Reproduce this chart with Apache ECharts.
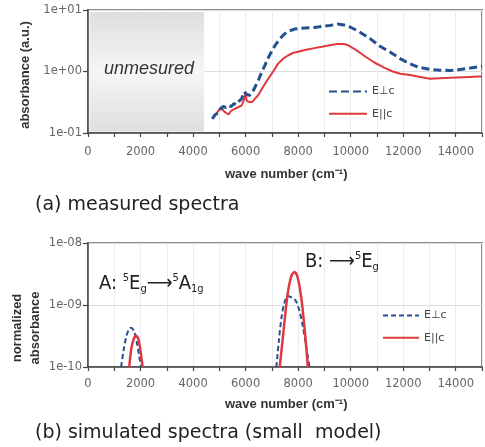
<!DOCTYPE html>
<html>
<head>
<meta charset="utf-8">
<script src="https://cdn.jsdelivr.net/npm/echarts@6/dist/echarts.min.js"></script>
<style>
html,body{margin:0;padding:0;background:#fff;}
#c{width:485px;height:447px;}
</style>
</head>
<body>
<div id="c"></div>
<script>
// ---------- data ----------
// (a) measured spectra
const measPerpWave = [4730,4850,4950,5050,5150,5250,5350,5450,5550,5650,5750,5850,5950,6000,6050,6150,6250,6350,6480,6600,6730,6900,7110,7300,7490,7680,7860,8100,8400,8620,8900,9200,9500,9750,10000,10300,10750,11100,11510,11900,12260,12600,13020,13400,13770,14100,14500,14900,15000];
const measPerpAbs  = [0.17,0.20,0.21,0.25,0.27,0.26,0.28,0.27,0.30,0.29,0.33,0.36,0.47,0.50,0.42,0.41,0.45,0.55,0.71,0.95,1.25,1.80,2.60,3.40,4.10,4.60,4.90,5.05,5.15,5.20,5.40,5.60,5.90,5.70,5.25,4.50,3.40,2.60,2.06,1.60,1.33,1.17,1.08,1.05,1.04,1.07,1.13,1.20,1.22];
const measParWave  = [4780,4900,5000,5090,5200,5350,5450,5600,5700,5850,5950,5990,6050,6150,6250,6350,6480,6650,6860,7050,7230,7420,7610,7800,7990,8300,8620,8950,9250,9500,9750,9880,10200,10500,10900,11260,11600,11890,12260,12600,13020,13400,13770,14300,14900,15000];
const measParAbs   = [0.19,0.21,0.24,0.25,0.22,0.20,0.23,0.25,0.26,0.28,0.36,0.43,0.33,0.32,0.32,0.36,0.41,0.55,0.76,1.00,1.33,1.60,1.82,2.00,2.10,2.25,2.40,2.55,2.70,2.80,2.80,2.70,2.25,1.82,1.40,1.17,1.00,0.92,0.88,0.82,0.76,0.78,0.79,0.81,0.83,0.83];
// (b) simulated spectra
const simPerpWave = [1260,1350,1450,1550,1640,1750,1850,1950,2020, null, 7170,7260,7360,7480,7610,7780,7920,8050,8180,8320,8430];
const simPerpAbs  = [1e-10,1.8e-10,3.0e-10,4.0e-10,4.3e-10,3.8e-10,2.6e-10,1.5e-10,1e-10, null, 1e-10,2.5e-10,6e-10,1.1e-9,1.4e-9,1.3e-9,1.15e-9,8e-10,4.5e-10,2e-10,1e-10];
const simParWave  = [1570,1650,1750,1830,1920,2000,2080, null, 7300,7450,7600,7750,7860,7980,8120,8250,8370];
const simParAbs   = [1e-10,2.0e-10,2.9e-10,3.2e-10,2.8e-10,1.8e-10,1e-10, null, 1e-10,4e-10,1.5e-9,3.0e-9,3.4e-9,2.8e-9,1.3e-9,4e-10,1e-10];
// axis tick labels
const xTickLabels = ['0','2000','4000','6000','8000','10000','12000','14000'];
const yTickLabelsA = {'-1':'1e-01','0':'1e+00','1':'1e+01'};
const yTickLabelsB = {'-10':'1e-10','-9':'1e-09','-8':'1e-08'};

// ---------- helpers ----------
function pairs(xs, ys){ return xs.map((x,i)=> x===null ? '-' : [x, ys[i]]); }
function xFmt(v){ const s=String(v); return xTickLabels.indexOf(s)>=0 ? s : ''; }
function yFmt(map){ return v => map[String(Math.round(Math.log10(v)))] || ''; }

const BLUE = '#24518f', RED = '#e0383f';
const tickFont = {fontFamily:'DejaVu Sans', fontSize:11.5, color:'#666'};
const titleFont = {fontFamily:'Liberation Sans', fontSize:13, fontWeight:'bold', fill:'#333'};
const annFam = "'DejaVu Sans Condensed','Liberation Sans Narrow','DejaVu Sans'";

function xAxisDef(gi, margin){
  return {
    gridIndex: gi, type:'value', min:0, max:15000, interval:1000,
    axisLine:{show:true, onZero:false, lineStyle:{color:'#444', width:1.5}},
    axisTick:{show:true, length:4, lineStyle:{color:'#444', width:1.2}},
    axisLabel:Object.assign({formatter:xFmt, margin:margin}, tickFont),
    splitLine:{show:true, lineStyle:{color:'#ececec', width:1}}
  };
}
function yAxisDef(gi, min, max, map){
  return {
    gridIndex: gi, type:'log', logBase:10, min:min, max:max,
    axisLine:{show:true, lineStyle:{color:'#444', width:1.5}},
    axisTick:{show:true, length:5, lineStyle:{color:'#444', width:1.2}},
    axisLabel:Object.assign({formatter:yFmt(map), margin:6}, tickFont),
    splitLine:{show:true, lineStyle:{color:'#dcdcdc', width:1}},
    minorTick:{show:false}
  };
}
const legText = {fontFamily:'DejaVu Sans', fontSize:11, color:'#444'};

const chart = echarts.init(document.getElementById('c'), null, {renderer:'canvas'});
chart.setOption({
  animation:false,
  backgroundColor:'#fff',
  grid:[
    {left:88, top:10, width:397, height:123, show:true, borderColor:'#8c8c8c', borderWidth:2, backgroundColor:'transparent'},
    {left:88, top:243, width:397, height:124, show:true, borderColor:'#8c8c8c', borderWidth:2, backgroundColor:'transparent'}
  ],
  xAxis:[xAxisDef(0,13), xAxisDef(1,11)],
  yAxis:[yAxisDef(0,0.1,10,yTickLabelsA), yAxisDef(1,1e-10,1e-8,yTickLabelsB)],
  legend:[
    {left:323, top:81, orient:'vertical', itemWidth:38, itemHeight:14, itemGap:11,
     data:['E⊥c (a)','E||c (a)'], formatter:n=>n.split(' ')[0], itemStyle:{opacity:0},
     textStyle:legText, selectedMode:false},
    {left:377, top:305, orient:'vertical', itemWidth:36, itemHeight:14, itemGap:11,
     data:['E⊥c (b)','E||c (b)'], formatter:n=>n.split(' ')[0], itemStyle:{opacity:0},
     textStyle:legText, selectedMode:false}
  ],
  series:[
    {name:'E⊥c (a)', type:'line', xAxisIndex:0, yAxisIndex:0, symbol:'none', z:3,
     data:pairs(measPerpWave, measPerpAbs),
     lineStyle:{color:BLUE, width:3, type:[8,4]}, itemStyle:{color:BLUE},
     markArea:{silent:true, itemStyle:{color:{type:'linear',x:0,y:0,x2:0,y2:1,colorStops:[
        {offset:0,color:'#dedede'},{offset:0.5,color:'#f6f6f6'},{offset:1,color:'#dedede'}]}},
       data:[[{coord:[60, 9.3]},{coord:[4420, 0.106]}]]}},
    {name:'E||c (a)', type:'line', xAxisIndex:0, yAxisIndex:0, symbol:'none', z:2,
     data:pairs(measParWave, measParAbs),
     lineStyle:{color:RED, width:2}, itemStyle:{color:RED}},
    {name:'E⊥c (b)', type:'line', xAxisIndex:1, yAxisIndex:1, symbol:'none', z:2, connectNulls:false,
     data:pairs(simPerpWave, simPerpAbs), smooth:0.3,
     lineStyle:{color:BLUE, width:2, type:[5,3]}, itemStyle:{color:BLUE}},
    {name:'E||c (b)', type:'line', xAxisIndex:1, yAxisIndex:1, symbol:'none', z:3, connectNulls:false,
     data:pairs(simParWave, simParAbs), smooth:0.3,
     lineStyle:{color:RED, width:2.5}, itemStyle:{color:RED}}
  ],
  graphic:[
    {type:'text', left:104, top:60, z:10, style:{text:'unmesured', fontFamily:'Liberation Sans', fontStyle:'italic', fontSize:18, fill:'#333'}},
    {type:'text', left:225, top:168, style:Object.assign({text:'wave number (cm⁻¹)'}, titleFont)},
    {type:'text', left:225, top:398, style:Object.assign({text:'wave number (cm⁻¹)'}, titleFont)},
    {type:'text', x:25, y:75, rotation:Math.PI/2, style:Object.assign({text:'absorbance (a.u.)', align:'center', verticalAlign:'middle'}, titleFont)},
    {type:'text', x:17, y:328, rotation:Math.PI/2, style:Object.assign({text:'normalized', align:'center', verticalAlign:'middle'}, titleFont)},
    {type:'text', x:35, y:328, rotation:Math.PI/2, style:Object.assign({text:'absorbance', align:'center', verticalAlign:'middle'}, titleFont)},
    {type:'text', left:99, top:273, z:10, style:{
      text:'{m|A: }{sup|5}{m|E}{sub|g}{m|⟶}{sup|5}{m|A}{sub|1g}',
      rich:{
        m:{fontFamily:annFam, fontSize:20, lineHeight:22, fill:'#222', verticalAlign:'middle'},
        sup:{fontFamily:annFam, fontSize:11, lineHeight:11, fill:'#222', verticalAlign:'top'},
        sub:{fontFamily:annFam, fontSize:11, lineHeight:11, fill:'#222', verticalAlign:'bottom'}
      }}},
    {type:'text', left:305, top:251, z:10, style:{
      text:'{m|B: ⟶}{sup|5}{m|E}{sub|g}',
      rich:{
        m:{fontFamily:annFam, fontSize:20, lineHeight:22, fill:'#222', verticalAlign:'middle'},
        sup:{fontFamily:annFam, fontSize:11, lineHeight:11, fill:'#222', verticalAlign:'top'},
        sub:{fontFamily:annFam, fontSize:11, lineHeight:11, fill:'#222', verticalAlign:'bottom'}
      }}},
    {type:'text', left:35, top:196, style:{text:'(a) measured spectra', fontFamily:'DejaVu Sans', fontSize:19, fill:'#222'}},
    {type:'text', left:35, top:424, style:{text:'(b) simulated spectra (small  model)', fontFamily:'DejaVu Sans', fontSize:19, fill:'#222'}}
  ]
});
</script>
</body>
</html>
